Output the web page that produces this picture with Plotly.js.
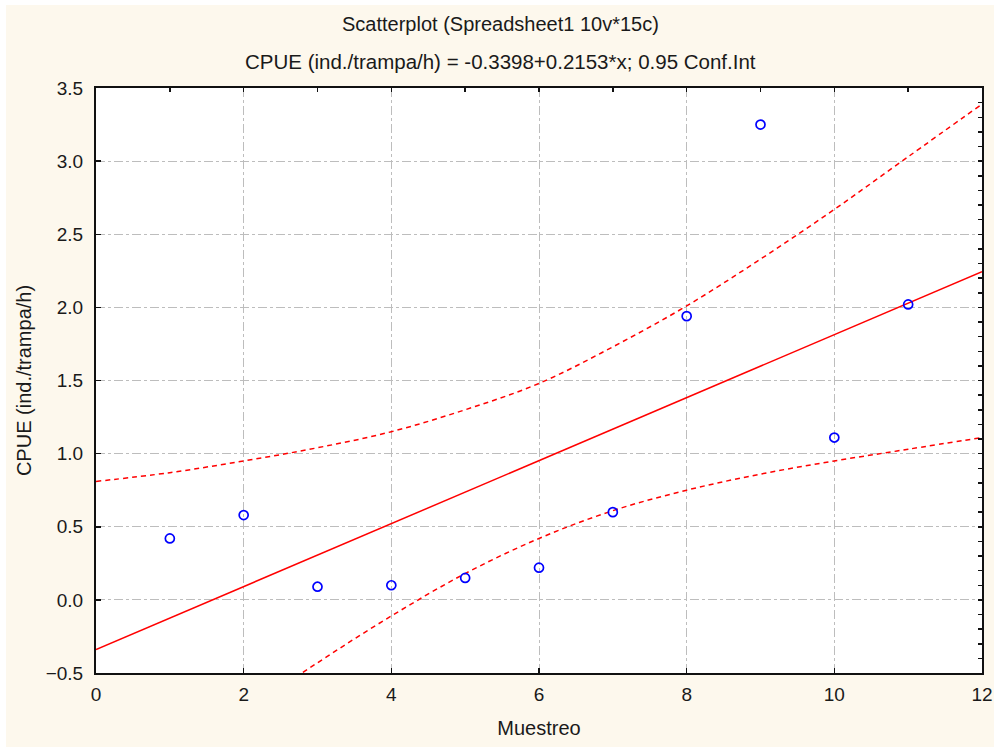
<!DOCTYPE html>
<html>
<head>
<meta charset="utf-8">
<script src="https://cdn.plot.ly/plotly-3.0.1.min.js"></script>
<style>html,body{margin:0;padding:0;background:#fdf8ed;}#chart{width:994px;height:747px;}</style>
</head>
<body>
<div id="chart"></div>
<script>
// Observed data
const muestreo = [1, 2, 3, 4, 5, 6, 7, 8, 9, 10, 11];
const cpue = [0.42, 0.58, 0.09, 0.10, 0.15, 0.22, 0.60, 1.94, 3.25, 1.11, 2.02];

// Regression line (endpoints from the fitted equation -0.3398 + 0.2153*x)
const fitX = [0, 12];
const fitY = [-0.3398, 2.2438];

// 0.95 confidence band
const bandX = [0, 1, 2, 3, 4, 5, 6, 7, 8, 9, 10, 11, 12];
const bandUpper = [0.81, 0.87, 0.95, 1.04, 1.15, 1.30, 1.48, 1.73, 2.01, 2.33, 2.67, 3.03, 3.39];
const bandLower = [-1.48, -1.12, -0.77, -0.43, -0.11, 0.18, 0.42, 0.61, 0.75, 0.86, 0.95, 1.03, 1.11];

const titleLine1 = 'Scatterplot (Spreadsheet1 10v*15c)';
const titleLine2 = 'CPUE (ind./trampa/h) = -0.3398+0.2153*x; 0.95 Conf.Int';
const xTitle = 'Muestreo';
const yTitle = 'CPUE (ind./trampa/h)';

const FONT = 'Liberation Sans, Arial, sans-serif';
const TXT = '#1a1a1a';
const red = '#ff0000';

const traces = [
  {x: bandX, y: bandUpper, mode: 'lines', line: {color: red, width: 1.5, dash: '5px,4px', shape: 'spline'}, hoverinfo: 'skip', showlegend: false},
  {x: bandX, y: bandLower, mode: 'lines', line: {color: red, width: 1.5, dash: '5px,4px', shape: 'spline'}, hoverinfo: 'skip', showlegend: false},
  {x: fitX, y: fitY, mode: 'lines', line: {color: red, width: 1.5}, showlegend: false},
  {x: muestreo, y: cpue, mode: 'markers', marker: {symbol: 'circle-open', size: 9, color: '#0000ff', line: {width: 1.7, color: '#0000ff'}}, showlegend: false},
  {x: [], y: [], xaxis: 'x2', yaxis: 'y2', mode: 'markers', showlegend: false, hoverinfo: 'skip'}
];

const W = 994, H = 747, L = 96, R = 12, T = 88, B = 74;
const pw = W - L - R, ph = H - T - B;

const layout = {
  width: W, height: H,
  margin: {l: L, r: R, t: T, b: B, pad: 0},
  paper_bgcolor: '#fdf8ed',
  plot_bgcolor: '#ffffff',
  font: {family: FONT, size: 19, color: TXT},
  showlegend: false,
  xaxis: {
    range: [0, 12], dtick: 2, tick0: 0, autorange: false,
    ticks: 'inside', ticklen: 5, tickwidth: 1.5, tickcolor: '#111',
    showline: true, linecolor: '#111', linewidth: 2, mirror: true,
    showgrid: true, gridcolor: '#bdbdbd', gridwidth: 1, griddash: 'dashdot',
    zeroline: false, ticklabelstandoff: 3,
    tickfont: {family: FONT, size: 19, color: TXT},
    title: {text: xTitle, font: {family: FONT, size: 20, color: TXT}, standoff: 17}
  },
  yaxis: {
    range: [-0.5, 3.5], dtick: 0.5, tick0: 0, autorange: false, tickformat: '.1f',
    ticks: 'inside', ticklen: 5, tickwidth: 1.5, tickcolor: '#111',
    showline: true, linecolor: '#111', linewidth: 2, mirror: true,
    showgrid: true, gridcolor: '#bdbdbd', gridwidth: 1, griddash: 'dashdot',
    zeroline: false, ticklabelstandoff: 7,
    tickfont: {family: FONT, size: 19, color: TXT},
    title: {text: yTitle, font: {family: FONT, size: 20, color: TXT}, standoff: 9}
  },
  xaxis2: {
    overlaying: 'x', side: 'top', range: [0, 12], autorange: false, dtick: 1, tick0: 0,
    ticks: 'inside', ticklen: 4, tickwidth: 1.5, tickcolor: '#111',
    showticklabels: false, showgrid: false, zeroline: false, showline: false
  },
  yaxis2: {
    overlaying: 'y', side: 'right', range: [-0.5, 3.5], autorange: false, dtick: 0.1, tick0: 0,
    ticks: 'inside', ticklen: 4, tickwidth: 1.5, tickcolor: '#111',
    showticklabels: false, showgrid: false, zeroline: false, showline: false
  },
  annotations: [
    {text: titleLine1, xref: 'paper', yref: 'paper', x: (500 - L) / pw, y: 1 + (T - 24) / ph, xanchor: 'center', yanchor: 'middle', showarrow: false, font: {family: FONT, size: 20, color: TXT}},
    {text: titleLine2, xref: 'paper', yref: 'paper', x: (500 - L) / pw, y: 1 + (T - 62) / ph, xanchor: 'center', yanchor: 'middle', showarrow: false, font: {family: FONT, size: 20.5, color: TXT}}
  ],
  shapes: [
    {type: 'rect', xref: 'paper', yref: 'paper', x0: -L / pw, x1: (6 - L) / pw, y0: -B / ph, y1: 1 + T / ph, fillcolor: '#ffffff', line: {width: 0}, layer: 'above'},
    {type: 'rect', xref: 'paper', yref: 'paper', x0: -L / pw, x1: 1 + R / pw, y0: 1 + (T - 5) / ph, y1: 1 + T / ph, fillcolor: '#ffffff', line: {width: 0}, layer: 'above'}
  ]
};

Plotly.newPlot('chart', traces, layout, {displayModeBar: false, staticPlot: true});
</script>
</body>
</html>
